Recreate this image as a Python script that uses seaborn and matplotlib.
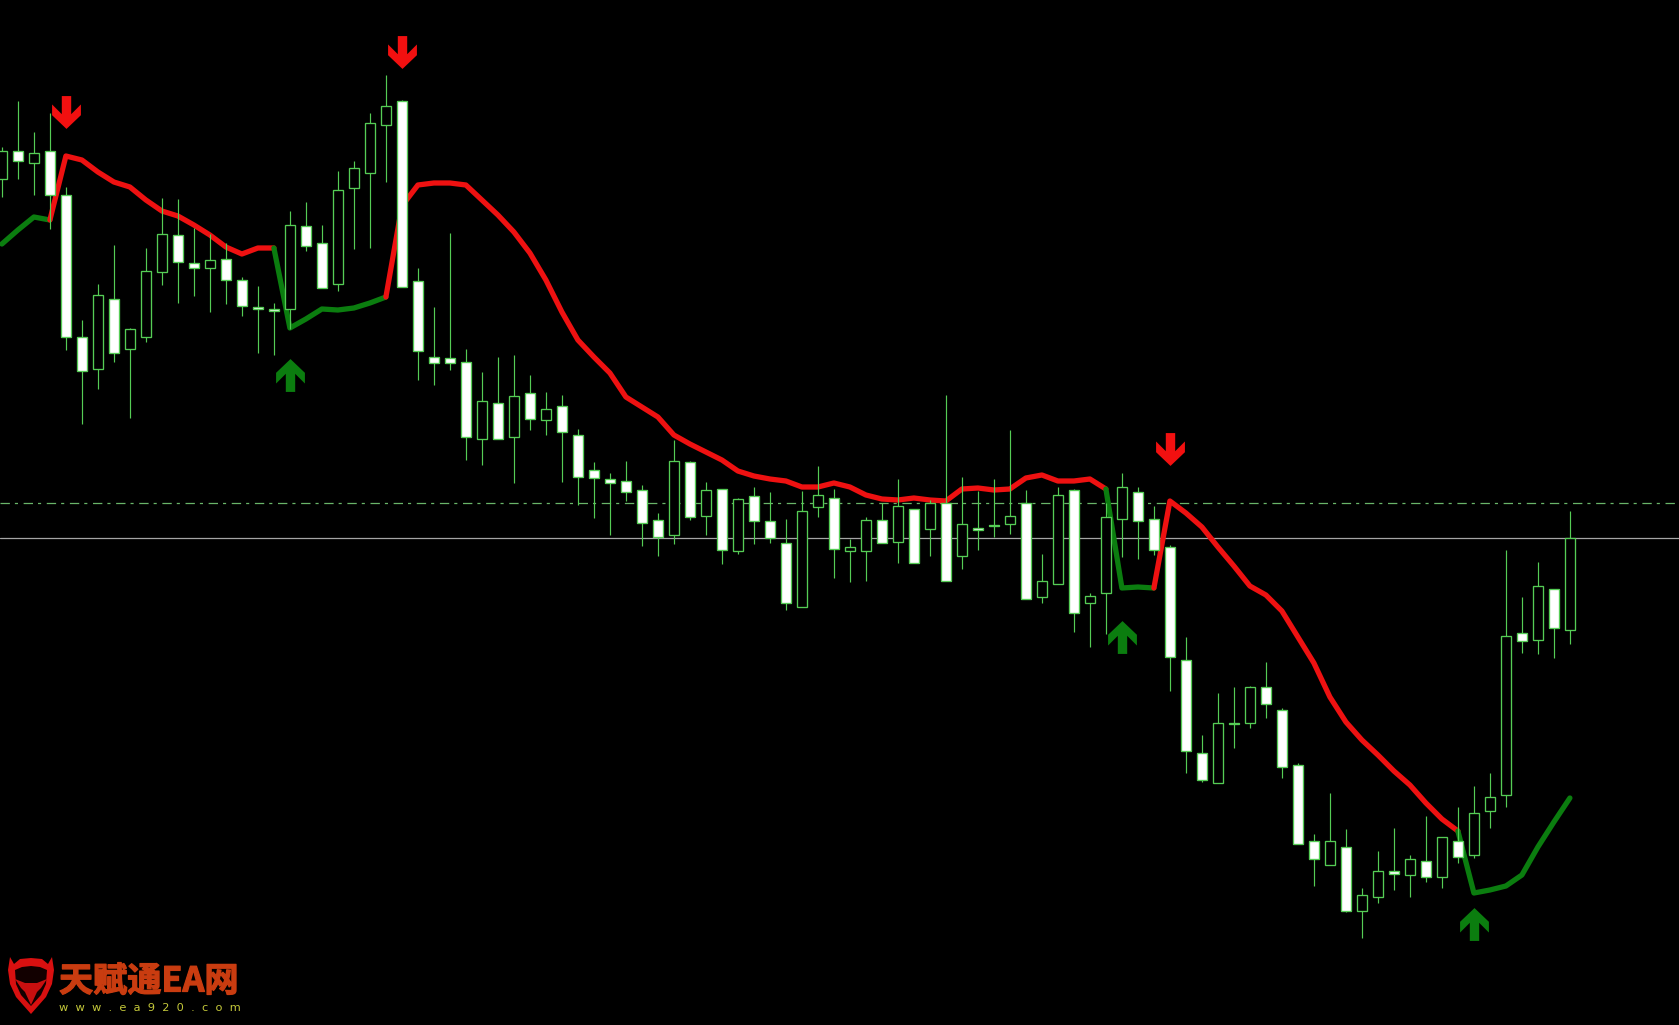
#Script for candlestick chart with trend line and signal arrows

import numpy as np
import pandas as pd
import matplotlib
matplotlib.use("Agg")
import matplotlib.pyplot as plt
import matplotlib.patheffects as pe
from matplotlib.path import Path
from matplotlib.patches import Polygon
import seaborn as sns

#Values are read from the picture. The chart has no price scale, so levels are in chart rows (0 = top).
highs = [147, 101, 132, 113, 187, 320, 284, 245, 328, 248, 198, 199, 228, 234, 243, 277, 286, 303, 211, 202,
         225, 171, 161, 113, 75, 100, 268, 307, 233, 349, 372, 357, 355, 375, 392, 395, 429, 462, 473, 461,
         485, 513, 440, 461, 482, 489, 498, 487, 492, 519, 491, 466, 489, 539, 517, 503, 479, 509, 500, 395,
         477, 491, 479, 430, 490, 554, 487, 489, 593, 503, 473, 487, 506, 545, 637, 735, 693, 687, 686, 662,
         708, 763, 834, 793, 829, 888, 851, 828, 855, 816, 837, 807, 786, 773, 550, 597, 562, 589, 511]
tops = [151, 151, 153, 151, 195, 337, 295, 299, 329, 271, 234, 235, 263, 260, 259, 280, 307, 309, 225, 226,
        243, 190, 168, 123, 106, 101, 281, 357, 358, 362, 401, 403, 396, 393, 409, 406, 435, 470, 479, 481,
        490, 520, 461, 462, 490, 489, 499, 496, 521, 543, 511, 495, 498, 547, 520, 520, 506, 509, 503, 503,
        524, 528, 525, 516, 503, 581, 495, 490, 596, 517, 487, 492, 519, 547, 660, 753, 723, 723, 687, 687,
        710, 765, 841, 841, 847, 895, 871, 871, 859, 861, 837, 841, 813, 797, 636, 633, 586, 589, 538]
bottoms = [179, 161, 163, 195, 337, 371, 369, 353, 349, 337, 272, 262, 268, 268, 280, 306, 309, 311, 309, 246,
           288, 284, 188, 173, 125, 287, 351, 363, 363, 437, 439, 439, 437, 419, 420, 432, 477, 478, 483, 492,
           523, 537, 535, 517, 516, 550, 551, 521, 538, 603, 607, 507, 549, 551, 551, 543, 542, 563, 529, 581,
           556, 530, 526, 524, 599, 597, 584, 613, 603, 593, 519, 521, 550, 657, 751, 780, 783, 724, 723, 704,
           767, 844, 859, 865, 911, 911, 897, 874, 875, 877, 877, 857, 855, 811, 795, 641, 640, 628, 630]
lows = [197, 179, 195, 229, 350, 424, 389, 362, 418, 342, 285, 303, 296, 312, 304, 316, 353, 355, 329, 251,
        288, 291, 249, 248, 182, 287, 380, 385, 370, 460, 465, 439, 483, 430, 435, 482, 505, 518, 535, 501,
        546, 556, 544, 520, 535, 564, 554, 544, 543, 610, 607, 517, 578, 582, 581, 543, 563, 563, 556, 581,
        569, 550, 537, 534, 599, 603, 584, 632, 647, 634, 557, 559, 555, 691, 773, 782, 783, 748, 728, 718,
        778, 844, 886, 865, 912, 938, 903, 890, 897, 882, 888, 863, 858, 828, 807, 653, 654, 658, 644]
#1 = falling bar drawn filled, 0 = rising bar drawn hollow
falling = [0, 1, 0, 1, 1, 1, 0, 1, 0, 0, 0, 1, 1, 0, 1, 1, 1, 1, 0, 1,
           1, 0, 0, 0, 0, 1, 1, 1, 1, 1, 0, 1, 0, 1, 0, 1, 1, 1, 1, 1,
           1, 1, 0, 1, 0, 1, 0, 1, 1, 1, 0, 0, 1, 0, 0, 1, 0, 1, 0, 1,
           0, 1, 1, 0, 1, 0, 0, 1, 0, 0, 0, 1, 1, 1, 1, 1, 0, 1, 0, 1,
           1, 1, 1, 0, 1, 0, 0, 1, 0, 1, 0, 1, 0, 0, 0, 1, 0, 1, 0]

trend_line = [244, 230, 217, 220, 156, 160, 172, 182, 187, 200, 211, 216, 225, 235, 247, 254, 248, 248, 328, 319,
              309, 310, 308, 303, 297, 206, 185, 183, 183, 185, 200, 215, 232, 253, 280, 312, 340, 357, 373, 397,
              407, 417, 435, 444, 452, 460, 471, 476, 479, 481, 487, 487, 483, 487, 495, 499, 500, 498, 500, 501,
              489, 488, 490, 489, 478, 475, 481, 481, 479, 489, 588, 587, 588, 501, 513, 527, 547, 566, 586, 595,
              611, 637, 663, 697, 722, 740, 755, 771, 785, 803, 819, 831, 893, 890, 886, 875, 847, 822, 798]
#Bars where the trend line changes colour, first colour is up
trend_switches = [0, 3, 17, 24, 69, 72, 91, 98]

sell_bars = [4, 25, 73]
sell_levels = [112, 52, 449]
buy_bars = [18, 70, 92]
buy_levels = [375, 637, 924]

dash_level = 503.3
solid_level = 538.3

BAR_SPACING = 16
FIRST_BAR_X = 1.9
WIDTH = 1679
HEIGHT = 1025
UP_COLOR = "#0b7d0f"
DOWN_COLOR = "#ee1111"
CANDLE_COLOR = "#55cc55"


def make_arrow():
    #Arrow pointing up, tip on top, wings folded back.
    verts = np.array([(-14, -49), (14, -49), (14, 5), (43, -24), (43, 8), (0, 49), (-43, 8), (-43, -24), (-14, 5), (-14, -49)]) / 49
    return verts


def draw_levels(ax):
    #Horizontal price lines behind the candles.
    ax.axhline(dash_level, color="#69b569", lw=0.9, dashes=(7.5, 4, 2.5, 4.5), zorder=1)
    ax.axhline(solid_level, color="#a5a5a5", lw=0.9, zorder=1)


def draw_trend(ax, frame):
    #Draw the trend line piece by piece, the colour flips at every switch.
    for n in range(len(trend_switches) - 1):
        start, stop = trend_switches[n], trend_switches[n + 1]
        part = frame.iloc[start:stop + 1]
        sns.lineplot(
            x="bar",
            y="trend",
            data=part,
            color=UP_COLOR if n % 2 == 0 else DOWN_COLOR,
            lw=3.8,
            ax=ax,
            legend=False,
            estimator=None,
            solid_capstyle="round",
            solid_joinstyle="round",
            zorder=2
        )


def draw_candles(ax, frame):
    #Wicks first and then bodies, white when falling and black when rising.
    ax.vlines(frame["bar"], frame["high"], frame["low"], color=CANDLE_COLOR, lw=0.85, zorder=3)
    fills = ["white" if f else "black" for f in frame["falling"]]
    ax.bar(
        frame["bar"],
        frame["bottom"] - frame["top"],
        bottom=frame["top"],
        width=0.6,
        color=fills,
        edgecolor=CANDLE_COLOR,
        linewidth=0.95,
        zorder=4
    )


def draw_arrows(ax):
    #Signal arrows above and below the candles.
    arrow = make_arrow()
    up_path = Path(arrow, closed=True)
    down_path = Path(arrow * [1, -1], closed=True)
    sns.scatterplot(x=buy_bars, y=buy_levels, marker=up_path, s=560, color=UP_COLOR, linewidth=0, ax=ax, legend=False, zorder=5)
    sns.scatterplot(x=sell_bars, y=sell_levels, marker=down_path, s=560, color="#f21010", linewidth=0, ax=ax, legend=False, zorder=5)


def draw_logo(fig):
    #Watermark in the lower left corner, on its own axes in pixel units.
    logo = fig.add_axes([0, 0, 1, 1], facecolor="none")
    logo.set_xlim(0, WIDTH)
    logo.set_ylim(HEIGHT, 0)
    logo.axis("off")
    shield = [(10, 957), (8, 970), (10, 984), (16, 997), (31, 1014), (46, 997), (52, 984), (54, 970), (52, 957),
              (48, 964), (42, 959), (31, 958), (20, 959), (14, 964)]
    inner = [(15, 970), (22, 967), (31, 966), (40, 967), (47, 970), (46, 984), (41, 995), (31, 1006), (21, 995), (16, 984)]
    head = [(15, 979), (25, 983), (37, 983), (47, 979), (41, 988), (37, 992), (31, 1005), (25, 992), (21, 988)]
    logo.add_patch(Polygon(shield, closed=True, facecolor="#d81010", edgecolor="none"))
    logo.add_patch(Polygon(inner, closed=True, facecolor="#120000", edgecolor="none"))
    logo.add_patch(Polygon(head, closed=True, facecolor="#c80f0f", edgecolor="none"))
    title = logo.text(59, 981, "天赋通EA网", color="#c93c10", fontsize=24.6, fontweight="bold",
                      family=["Noto Sans CJK SC", "DejaVu Sans"], va="center", ha="left")
    title.set_path_effects([pe.withStroke(linewidth=0.9, foreground="#c93c10")])
    logo.text(59, 1008, "w  w  w  .  e  a  9  2  0  .  c  o  m", color="#c4c83a", fontsize=8.2,
              family="DejaVu Sans", va="center", ha="left")


if __name__ == "__main__":
    sns.set_theme(style="dark", rc={"axes.facecolor": "black", "figure.facecolor": "black"})
    plt.rcParams["font.family"] = ["Noto Sans CJK SC", "DejaVu Sans"]

    frame = pd.DataFrame({
        "bar": range(len(highs)),
        "high": highs,
        "top": tops,
        "bottom": bottoms,
        "low": lows,
        "falling": falling,
        "trend": trend_line
    })

    fig = plt.figure(figsize=(WIDTH / 100, HEIGHT / 100), dpi=100)
    ax = fig.add_axes([0, 0, 1, 1])
    draw_levels(ax)
    draw_trend(ax, frame)
    draw_candles(ax, frame)
    draw_arrows(ax)

    #One bar is 16 pixels wide and the bars run past the left edge a little.
    ax.set_xlim(-FIRST_BAR_X / BAR_SPACING, (WIDTH - FIRST_BAR_X) / BAR_SPACING)
    ax.set_ylim(HEIGHT, 0)
    ax.axis("off")

    draw_logo(fig)
    fig.savefig("out.png", dpi=100, facecolor="black")
